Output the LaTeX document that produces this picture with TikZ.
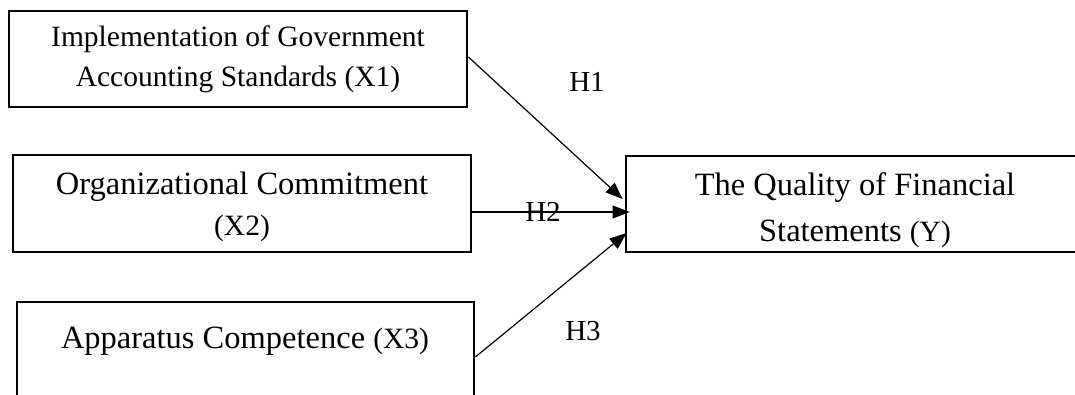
\documentclass[tikz,border=0pt]{standalone}
\usepackage{fontspec}
\setmainfont{Liberation Serif}
\usetikzlibrary{arrows.meta}
\begin{document}
\begin{tikzpicture}[x=1pt,y=-1pt,
  box/.style={draw, line width=2.8pt, inner sep=0pt},
  txtA/.style={inner sep=0pt, anchor=base, font=\fontsize{29.5}{35}\selectfont},
  txtB/.style={inner sep=0pt, anchor=base, font=\fontsize{32.5}{39}\selectfont},
  hyp/.style={inner sep=0pt, font=\fontsize{29}{35}\selectfont},
  arr/.style={line width=1.2pt, -{Triangle[length=17pt,width=13pt]}}]
\useasboundingbox (0,0) rectangle (1075,395);
\clip (0,0) rectangle (1075,395);
% boxes
\node[box, minimum width=458pt, minimum height=96pt] (b1) at (238,59) {};
\node[box, minimum width=458pt, minimum height=97pt] (b2) at (242,203.5) {};
\node[box, minimum width=457pt, minimum height=100pt] (b3) at (245.5,352) {};
\node[box, minimum width=458pt, minimum height=96pt] (by) at (855,204) {};
% texts
\node[txtA] (t1a) at (238,47) {Implementation of Government};
\node[txtA] (t1b) at (238,87) {Accounting Standards (X1)};
\node[txtB] (t2a) at (242,195) {Organizational Commitment};
\node[txtA] (t2b) at (242,236) {(X2)};
\node[txtB] (t3) at (245,348) {Apparatus Competence {\fontsize{29.5}{35}\selectfont(X3)}};
\node[txtB] (tya) at (855,196) {The Quality of Financial};
\node[txtB] (tyb) at (855,242) {Statements {\fontsize{29.5}{35}\selectfont(Y)}};
% hypothesis labels
\node[hyp] (h1) at (587,82) {H1};
\node[hyp] (h2) at (543,212) {H2};
\node[hyp] (h3) at (583,331) {H3};
% connectors
\draw[arr] ([yshift=2pt]b1.east) -- ([yshift=5pt,xshift=-2pt]by.west);
\draw[arr] ([yshift=-8.5pt]b2.east) -- ([yshift=-8pt,xshift=5pt]by.west);
\draw[arr] ([yshift=-5pt]b3.east) -- ([yshift=-29pt,xshift=2pt]by.west);
\end{tikzpicture}
\end{document}
